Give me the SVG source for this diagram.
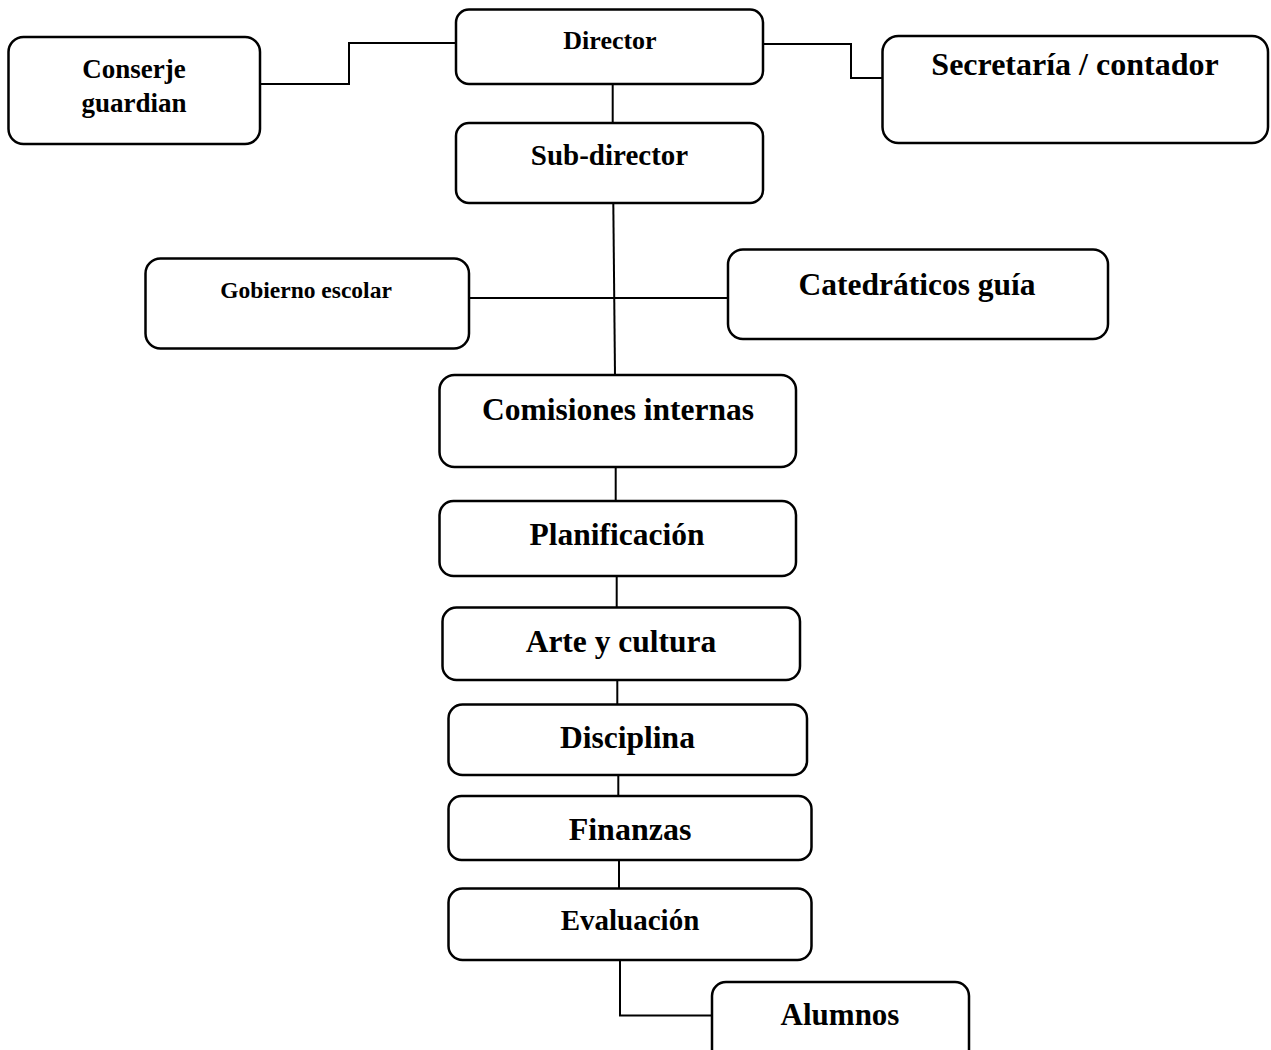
<svg xmlns="http://www.w3.org/2000/svg" width="1271" height="1050" viewBox="0 0 1271 1050">
<style>
.box{fill:#fff;stroke:#000;stroke-width:2.5}
.lbl{font-family:"Liberation Serif","Times New Roman",serif;font-weight:bold;fill:#000;text-anchor:middle}
.conn{fill:none;stroke:#000;stroke-width:2}
</style>
<rect width="1271" height="1050" fill="#fff"/>
<g id="connectors">
<path class="conn" d="M456,43 H349 V84 H260"/>
<path class="conn" d="M763,44 H851 V78 H883"/>
<path class="conn" d="M612.7,84 V123"/>
<path class="conn" d="M613.3,203 L615,375"/>
<path class="conn" d="M469,298 H728"/>
<path class="conn" d="M615.7,467 V501"/>
<path class="conn" d="M616.7,576 V607"/>
<path class="conn" d="M617.3,680 V704"/>
<path class="conn" d="M618.3,775 V796"/>
<path class="conn" d="M619,860 V888"/>
<path class="conn" d="M620,960 V1015.5 H712"/>
</g>
<g id="director">
<rect class="box" x="456" y="9.5" width="307" height="74.5" rx="13"/>
<text class="lbl" x="610" y="49.3" font-size="26">Director</text>
</g>
<g id="conserje">
<rect class="box" x="8.5" y="37" width="251.5" height="107" rx="15"/>
<text class="lbl" x="134" y="78" font-size="27">Conserje</text>
<text class="lbl" x="134" y="112" font-size="27">guardian</text>
</g>
<g id="secretaria">
<rect class="box" x="882.5" y="36" width="385.5" height="107" rx="16"/>
<text class="lbl" x="1075" y="75" font-size="32">Secretaría / contador</text>
</g>
<g id="subdirector">
<rect class="box" x="456" y="123" width="307" height="80" rx="13"/>
<text class="lbl" x="609.5" y="164.5" font-size="29">Sub-director</text>
</g>
<g id="gobierno">
<rect class="box" x="145.5" y="258.5" width="323.5" height="90" rx="15"/>
<text class="lbl" x="306" y="298.3" font-size="23.5">Gobierno escolar</text>
</g>
<g id="catedraticos">
<rect class="box" x="728" y="249.5" width="380" height="89.5" rx="15"/>
<text class="lbl" x="917" y="295" font-size="31.5">Catedráticos guía</text>
</g>
<g id="comisiones">
<rect class="box" x="439.5" y="375" width="356.5" height="92" rx="15"/>
<text class="lbl" x="618" y="420" font-size="31.5">Comisiones internas</text>
</g>
<g id="planificacion">
<rect class="box" x="439.5" y="501" width="356.5" height="75" rx="14"/>
<text class="lbl" x="617" y="545" font-size="31.5">Planificación</text>
</g>
<g id="arte">
<rect class="box" x="442.5" y="607.5" width="357.5" height="72.5" rx="14"/>
<text class="lbl" x="621" y="652.3" font-size="31.5">Arte y cultura</text>
</g>
<g id="disciplina">
<rect class="box" x="448.5" y="704.5" width="358.5" height="70.5" rx="14"/>
<text class="lbl" x="627.5" y="748.3" font-size="31.5">Disciplina</text>
</g>
<g id="finanzas">
<rect class="box" x="448.5" y="796" width="363" height="64" rx="13"/>
<text class="lbl" x="630" y="840" font-size="32">Finanzas</text>
</g>
<g id="evaluacion">
<rect class="box" x="448.5" y="888.5" width="363" height="71.5" rx="14"/>
<text class="lbl" x="630" y="930" font-size="29">Evaluación</text>
</g>
<g id="alumnos">
<rect class="box" x="712" y="982" width="257" height="90" rx="14"/>
<text class="lbl" x="840" y="1025" font-size="31">Alumnos</text>
</g>
</svg>
